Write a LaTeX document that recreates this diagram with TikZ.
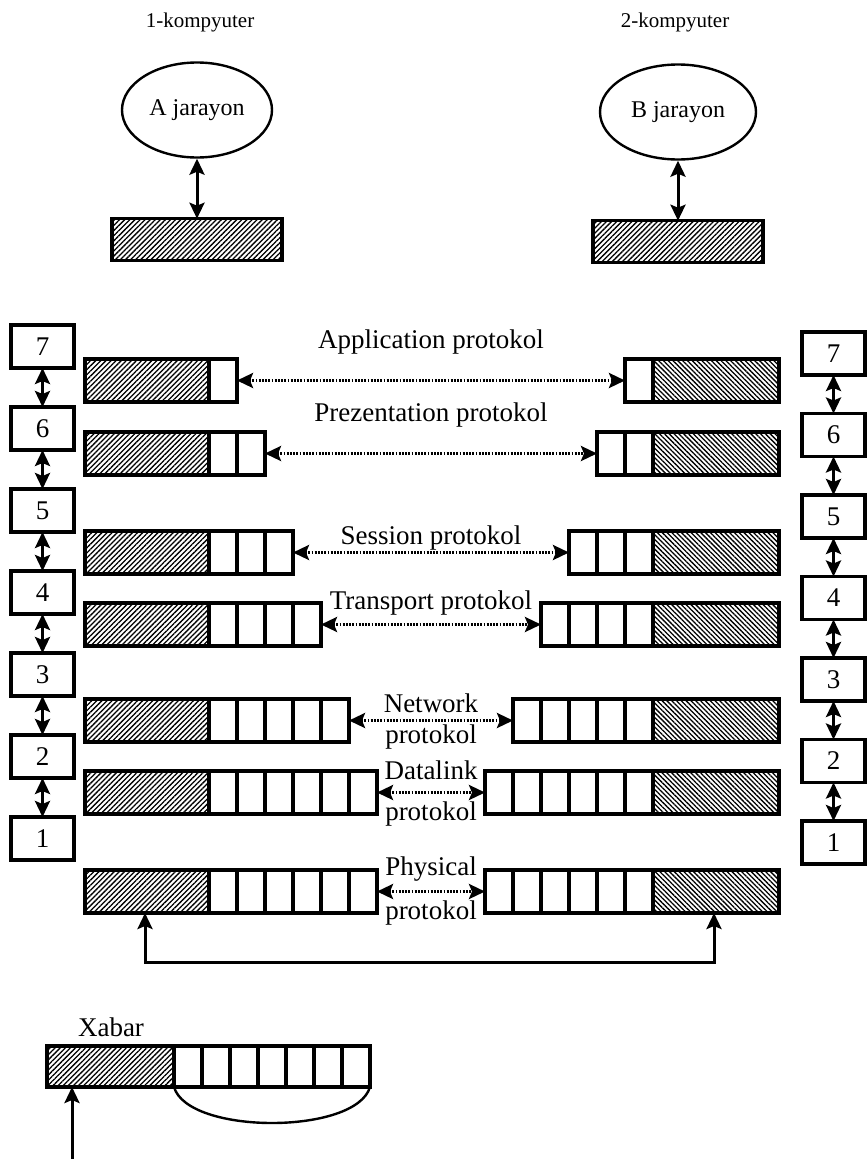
\documentclass[tikz,border=0pt]{standalone}
\usepackage{fontspec}
\setmainfont{Liberation Serif}
\usetikzlibrary{arrows.meta, positioning, patterns.meta, shapes.geometric}
\tikzset{
  lyr/.style={draw, line width=3.2pt, minimum width=63pt, minimum height=43pt, inner sep=0pt,
    outer sep=0pt, font=\fontsize{27}{32}\selectfont},
  hatchL/.style={draw, line width=3.2pt, pattern={Lines[angle=45, distance=3.6pt, line width=1.3pt]},
    minimum width=124pt, minimum height=43pt, inner sep=0pt, outer sep=0pt},
  hatchR/.style={draw, line width=3.2pt, pattern={Lines[angle=-45, distance=3.4pt, line width=1.3pt]},
    minimum width=126pt, minimum height=43pt, inner sep=0pt, outer sep=0pt},
  cell/.style={draw, line width=3.2pt, minimum width=28pt, minimum height=43pt, inner sep=0pt, outer sep=0pt},
  proc/.style={draw, ellipse, line width=2.4pt, minimum width=150pt, minimum height=95pt, inner sep=0pt,
    font=\fontsize{24}{28}\selectfont},
  arr/.style={-{Stealth[length=16pt, width=15pt, inset=3pt]}, line width=3pt},
  darr/.style={{Stealth[length=16pt, width=15pt, inset=3pt]}-{Stealth[length=16pt, width=15pt, inset=3pt]},
    line width=3pt},
  dotarr/.style={darr, dash pattern=on 1.8pt off 1.4pt},
  lbl/.style={font=\fontsize{27}{32}\selectfont, inner sep=0pt},
}
\begin{document}
\begin{tikzpicture}[x=1pt, y=-1pt]
  \useasboundingbox (0,0) rectangle (867,1159);
  % the two computers
  \node[lbl, font=\fontsize{21}{25}\selectfont] (k1) at (200,22) {1-kompyuter};
  \node[lbl, font=\fontsize{21}{25}\selectfont] (k2) at (675,22) {2-kompyuter};
  \node[proc] (pA) at (197,110) {A jarayon};
  \node[proc, minimum width=156pt] (pB) at (678,112) {B jarayon};
  \node[hatchL, minimum width=170pt, minimum height=42pt, below=60pt of pA] (bA) {};
  \node[hatchL, minimum width=170pt, minimum height=42pt, below=60pt of pB] (bB) {};
  \draw[darr] (pA) -- (bA);
  \draw[darr] (pB) -- (bB);

  % layer stacks
  \foreach \k in {7,...,1} {
    \node[lyr, anchor=north west] (sl\k) at (11,{325+(7-\k)*82}) {\k};
    \node[lyr, anchor=north west] (sr\k) at (802,{332+(7-\k)*81.5}) {\k};
  }
  \foreach \k [evaluate=\k as \j using int(\k-1)] in {7,...,2} {
    \draw[darr] (sl\k) -- (sl\j);
    \draw[darr] (sr\k) -- (sr\j);
  }

  % message rows with headers
  \foreach \row/\yy/\nc in {7/359/1, 6/432/2, 5/531/3, 4/603/4, 3/699/5, 2/771/6, 1/870/6} {
    \node[hatchL, anchor=north west] (L\row) at (85,\yy) {};
    \node[hatchR, anchor=north east] (R\row) at (779,\yy) {};
    \foreach \i in {1,...,\nc} {
      \node[cell, anchor=west, xshift={(\i-1)*28}] (L\row c\i) at (L\row.east) {};
      \node[cell, anchor=east, xshift={-(\i-1)*28}] (R\row c\i) at (R\row.west) {};
    }
  }
  \draw[dotarr] (L7c1.east) -- node[lbl, yshift=38pt] {Application protokol} (R7c1.west);
  \draw[dotarr] (L6c2.east) -- node[lbl, yshift=38pt] {Prezentation protokol} (R6c2.west);
  \draw[dotarr] (L5c3.east) -- node[lbl, yshift=15pt] {Session protokol} (R5c3.west);
  \draw[dotarr] (L4c4.east) -- node[lbl, yshift=22pt] {Transport protokol} (R4c4.west);
  \draw[dotarr] (L3c5.east) -- node[lbl, yshift=17pt] {Network} node[lbl, yshift=-16pt] {protokol} (R3c5.west);
  \draw[dotarr] (L2c6.east) -- node[lbl, yshift=22pt] {Datalink} node[lbl, yshift=-21pt] {protokol} (R2c6.west);
  \draw[dotarr] (L1c6.east) -- node[lbl, yshift=22pt] {Physical} node[lbl, yshift=-21pt] {protokol} (R1c6.west);

  % physical medium
  \coordinate (busL) at (145,962);
  \coordinate (busR) at (714,962);
  \draw[darr] (L1.south -| busL) -- (busL) -- (busR) -- (R1.south -| busR);

  % the message
  \node[hatchL, minimum width=127pt, minimum height=41pt, anchor=north west] (X) at (47,1046) {};
  \foreach \i in {1,...,7}
    \node[cell, minimum height=41pt, anchor=west, xshift={(\i-1)*28}] (Xc\i) at (X.east) {};
  \node[lbl] (xbar) at (111,1027) {Xabar};
  \draw[line width=2.4pt] (Xc1.south west) .. controls ([xshift=14pt, yshift=-48pt]Xc1.south west)
    and ([xshift=-14pt, yshift=-48pt]Xc7.south east) .. (Xc7.south east);
  \coordinate (xin) at (72,1159);
  \draw[arr] (xin) -- (xin |- X.south);
\end{tikzpicture}
\end{document}
